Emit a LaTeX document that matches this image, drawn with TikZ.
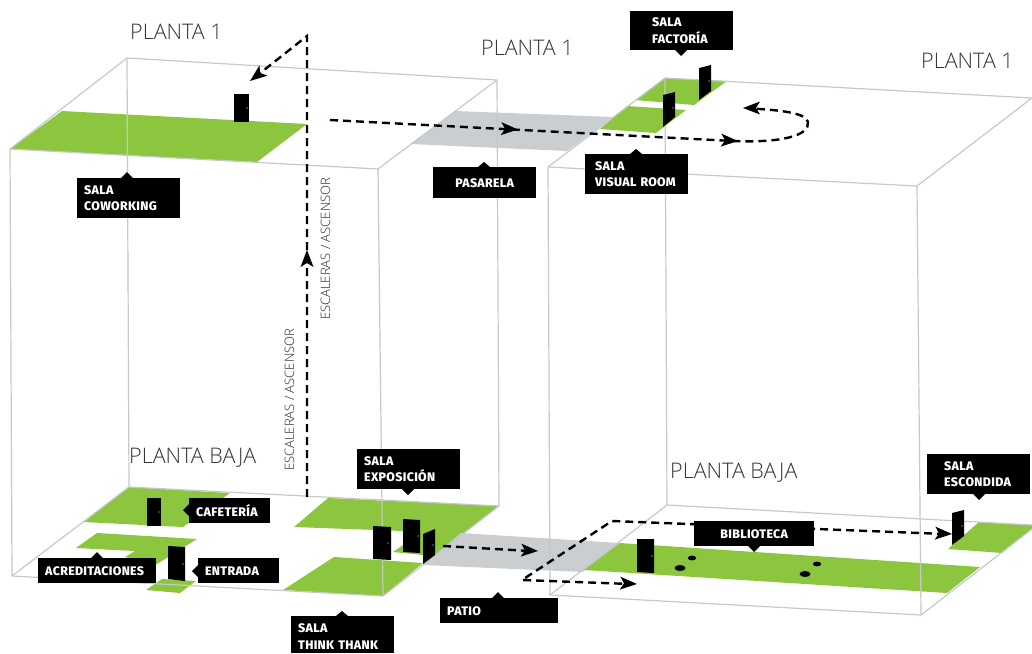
\documentclass[tikz,border=0pt]{standalone}
\usepackage{fontspec}
\setmainfont{Fira Sans}
\newfontfamily\labfont[LetterSpace=2.5,BoldFont={Fira Sans ExtraBold}]{Fira Sans}
\newfontfamily\thinfont{Open Sans Light}
\definecolor{leaf}{HTML}{8CC63F}
\definecolor{deck}{HTML}{CBCED1}
\definecolor{wire}{HTML}{C5C9CD}
\tikzset{
  x=1pt,y=-1pt,
  wireline/.style={draw=wire,line width=1.2pt,line join=round},
  room/.style={fill=leaf},
  walk/.style={fill=deck},
  doorshape/.style={fill=black},
  knob/.style={fill=white,circle,inner sep=0pt,minimum size=1.2pt},
  hole/.style={fill=black},
  lab/.style={fill=black,text=white,anchor=north west,inner ysep=0pt,align=left,font=\labfont\bfseries\fontsize{12.4}{15.7}\selectfont},
  tip/.style={fill=black},
  floorname/.style={anchor=base west,text=black!80,inner sep=0pt,font=\thinfont\fontsize{21.5}{23}\selectfont},
  stairname/.style={rotate=90,anchor=base west,text=black!85,inner sep=0pt,font=\thinfont\fontsize{13}{14}\selectfont},
  walkline/.style={draw=black,line width=2.4pt,dash pattern=on 8pt off 5pt},
  head/.style={fill=black},
}
\newcommand{\headat}[2]{\fill[head,shift={(#1)},rotate=#2,x=1pt,y=1pt] (0,0) -- (-17,6.5) -- (-13,0) -- (-17,-6.5) -- cycle;}
\begin{document}
\begin{tikzpicture}
\useasboundingbox (0,0) rectangle (1032,653);
% floors
\fill[room] (10,149) -- (62,111) -- (307,124) -- (257,162) -- cycle;
\fill[walk] (455,111) -- (613,117) -- (567,151) -- (410,144) -- cycle;
\fill[room] (627,106) -- (686,110) -- (656,133) -- (600,129) -- cycle;
\fill[room] (665,78) -- (727,81) -- (694,105) -- (635,100) -- cycle;
\fill[room] (129,487) -- (230,493) -- (183,527) -- (84,522) -- cycle;
\fill[room] (97,533) -- (197,539) -- (157,564) -- (125,557) -- (135,551) -- (76,548) -- cycle;
\fill[room] (162,579) -- (196,581) -- (180,593) -- (146,590) -- cycle;
\fill[room] (328,498) -- (499,506) -- (424,563) -- (423,555) -- (393,552) -- (403,545) -- (403,531) -- (294,527) -- cycle;
\fill[room] (334,557) -- (423,563) -- (383,596) -- (283,590) -- cycle;
\fill[walk] (461,533) -- (620,543) -- (583,572) -- (423,565) -- cycle;
\fill[room] (620,543) -- (980,567) -- (947,593) -- (584,570) -- cycle;
\fill[room] (979,522) -- (1032,525) -- (1032,529) -- (1002,553) -- (948,549) -- cycle;
% left box
\draw[wireline] (127,58) -- (497,80) -- (378,169) -- (10,149) -- cycle;
\draw[wireline] (10,149) -- (12,576) -- (383,596) -- (499,506) -- (129,487) -- (12,576);
\draw[wireline] (127,58) -- (129,487);
\draw[wireline] (378,169) -- (383,596);
\draw[wireline] (497,80) -- (499,506);
% right box
\draw[wireline] (1032,98) -- (665,78) -- (548,167) -- (917,186) -- (1032,98);
\draw[wireline] (548,167) -- (550,595) -- (921,615) -- (1032,529);
\draw[wireline] (1032,525) -- (667,505) -- (550,595);
\draw[wireline] (665,78) -- (667,505);
\draw[wireline] (917,186) -- (921,615);
% doors
\fill[doorshape] (234,94) rectangle (249,122);
\node[knob] (k1) at (247,108) {};
\fill[doorshape] (147,498) rectangle (161,526);
\node[knob] (k2) at (159,512) {};
\fill[doorshape] (168,546) -- (185,547) -- (185,581) -- (168,579) -- cycle;
\node[knob] (k3) at (183,564) {};
\fill[doorshape] (373,526) -- (391,527) -- (391,560) -- (373,559) -- cycle;
\node[knob] (k4) at (388,543) {};
\fill[doorshape] (403,519) -- (420,520) -- (420,553) -- (403,552) -- cycle;
\node[knob] (k5) at (418,536) {};
\fill[doorshape] (423,534) -- (435,529) -- (435,555) -- (423,564) -- cycle;
\node[knob] (k6) at (433,545) {};
\fill[doorshape] (637,539) -- (654,539) -- (654,573) -- (637,572) -- cycle;
\node[knob] (k7) at (652,556) {};
\fill[doorshape] (952,513) -- (964,510) -- (964,536) -- (952,545) -- cycle;
\node[knob] (k8) at (962,526) {};
\fill[doorshape] (699,68) -- (711,65) -- (711,91) -- (699,100) -- cycle;
\node[knob] (k9) at (709,81) {};
\fill[doorshape] (663,95) -- (675,92) -- (675,117) -- (663,127) -- cycle;
\node[knob] (k10) at (673,108) {};
% holes
\fill[hole] (692,558) ellipse (4.2 and 2.4);
\fill[hole] (680,568) ellipse (5.5 and 3);
\fill[hole] (817,564) ellipse (4.2 and 2.4);
\fill[hole] (805,574) ellipse (5.5 and 3);
% walks
\coordinate (stairbase) at (307,497);
\coordinate (stairtop) at (307,36);
\coordinate (coworkdoor) at (254,78);
\coordinate (hallstart) at (330,120);
\coordinate (hallend) at (733,141);
\coordinate (loopend) at (752,108.5);
\coordinate (patiostart) at (443,546);
\coordinate (patioend) at (530,551);
\coordinate (fork) at (522,580);
\coordinate (bend) at (612,521);
\coordinate (hiddendoor) at (945,534);
\coordinate (libdoor) at (630,584);
\draw[walkline] (stairbase) -- (stairtop) -- (coworkdoor);
\draw[walkline] (hallstart) -- (hallend) .. controls (780,143) and (810,136) .. (808,122) .. controls (806,112) and (775,110) .. (loopend);
\draw[walkline] (patiostart) -- (patioend);
\draw[walkline,line join=round] (hiddendoor) -- (bend) -- (fork) -- (libdoor);
\headat{250,81}{218}
\headat{307,250}{90}
\headat{518,129.5}{-3}
\headat{738,141}{-3}
\headat{743,108}{180}
\headat{538,551}{-3}
\headat{952,534}{-3}
\headat{637,584}{-3}
% labels
\node[lab,inner xsep=7pt,text width=89pt,minimum height=40pt] (lcow) at (77,178) {SALA\\[1pt]COWORKING};
\fill[tip] (121,178) -- (127,172) -- (133,178) -- cycle;
\node[lab,inner xsep=7pt,text width=89pt,minimum height=40pt] (lexp) at (357,449) {SALA\\[1pt]EXPOSICIÓN};
\fill[tip] (402,489) -- (408,495) -- (414,489) -- cycle;
\node[lab,inner xsep=7pt,text width=67pt,minimum height=25pt] (lcaf) at (189,498) {CAFETERÍA};
\fill[tip] (189,504) -- (183,510) -- (189,516) -- cycle;
\node[lab,inner xsep=7pt,text width=104pt,minimum height=25pt] (lacr) at (38,558) {ACREDITACIONES};
\fill[tip] (91,558) -- (97,552) -- (103,558) -- cycle;
\node[lab,inner xsep=7pt,text width=67pt,minimum height=25pt] (lent) at (198,558) {ENTRADA};
\fill[tip] (198,565) -- (192,571) -- (198,577) -- cycle;
\node[lab,inner xsep=7pt,text width=89pt,minimum height=37pt] (ltt) at (291,616) {SALA\\[1pt]THINK THANK\par\vspace{-4pt}};
\fill[tip] (336,616) -- (342,611) -- (348,616) -- cycle;
\node[lab,inner xsep=7pt,text width=104pt,minimum height=25pt] (lpat) at (440,598) {PATIO};
\fill[tip] (492,598) -- (498,592) -- (504,598) -- cycle;
\node[lab,inner xsep=0pt,text width=120pt,align=center,minimum height=25pt] (lbib) at (694,521) {BIBLIOTECA};
\fill[tip] (748,546) -- (754,552) -- (760,546) -- cycle;
\node[lab,inner xsep=17pt,text width=69pt,minimum height=40pt] (lesc) at (927,454) {SALA\\[1pt]ESCONDIDA};
\fill[tip] (973,494) -- (979,500) -- (985,494) -- cycle;
\node[lab,inner xsep=22pt,text width=59pt,minimum height=39pt] (lfac) at (630,11) {SALA\\[1pt]FACTORÍA};
\fill[tip] (675,50) -- (681,56) -- (687,50) -- cycle;
\node[lab,inner xsep=10pt,text width=83pt,minimum height=40pt] (lvis) at (585,154) {SALA\\[1pt]VISUAL ROOM};
\fill[tip] (630,154) -- (636,149) -- (642,154) -- cycle;
\node[lab,inner xsep=0pt,text width=103pt,align=center,minimum height=31pt] (lpas) at (433,167) {PASARELA};
\fill[tip] (478,167) -- (484,162) -- (490,167) -- cycle;
% floor names
\node[floorname] (f1) at (130,39) {PLANTA 1};
\node[floorname] (f2) at (481,55) {PLANTA 1};
\node[floorname] (f3) at (921,68) {PLANTA 1};
\node[floorname] (f4) at (129,463) {PLANTA BAJA};
\node[floorname] (f5) at (670,478) {PLANTA BAJA};
\node[stairname] (s1) at (294,471) {ESCALERAS / ASCENSOR};
\node[stairname] (s2) at (330,320) {ESCALERAS / ASCENSOR};
\end{tikzpicture}
\end{document}
